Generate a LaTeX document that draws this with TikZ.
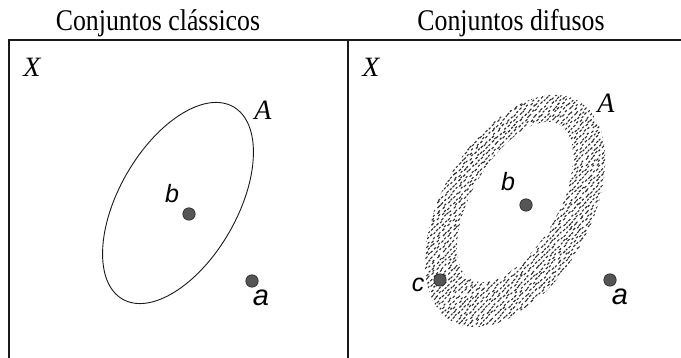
\documentclass[tikz,border=0pt]{standalone}
\usepackage{fontspec}
\setmainfont{Liberation Serif}
\setsansfont{Liberation Sans}
\usetikzlibrary{positioning}
\definecolor{DotGray}{HTML}{555555}
\definecolor{InkBlack}{HTML}{1A1A1A}
\definecolor{FuzzGray}{HTML}{2E2E2E}

\begin{document}
\begin{tikzpicture}[x=1pt, y=-1pt,
    title/.style={font=\fontsize{30}{30}\selectfont, anchor=base, xscale=0.86},
    setname/.style={font=\fontsize{28}{28}\selectfont\itshape, anchor=base},
    elem/.style={font=\fontsize{25}{25}\selectfont\sffamily\itshape, anchor=base},
    elembig/.style={font=\fontsize{29}{29}\selectfont\sffamily\itshape, anchor=base},
    pt/.style={circle, fill=DotGray, draw=InkBlack, line width=0.5pt, inner sep=0pt, minimum size=12.5pt},
    frame/.style={InkBlack, line width=1.6pt},
    fuzz/.style={FuzzGray, line width=1.1pt}]
  \useasboundingbox (0,0) rectangle (681,358);
  % Titles
  \node[title] (tclas) at (158,31) {Conjuntos clássicos};
  \node[title] (tdif) at (511,31) {Conjuntos difusos};
  % Frame (open at right and bottom)
  \coordinate (tl) at (9,40);
  \coordinate (tr) at (681,40);
  \coordinate (bl) at (9,358);
  \coordinate (tm) at (348,40);
  \coordinate (bm) at (348,358);
  \draw[frame] (bl) -- (tl) -- (tr);
  \draw[frame] (tm) -- (bm);
  % Universe labels
  \node[setname] (xl) at (32,77) {X};
  \node[setname] (xr) at (371,77) {X};
  % Classical set: crisp ellipse
  \coordinate (cA) at (178,203);
  \draw[InkBlack, line width=0.9pt, rotate around={60:(cA)}] (cA) ellipse (111 and 59);
  \node[setname] (al) at (263,120) {A};
  \node[pt] (pbl) at (189,214) {};
  \node[elem] (lbl) at (172,203) {b};
  \node[pt] (pal) at (252,281) {};
  \node[elembig] (lal) at (261,306) {a};
  % Fuzzy set: stippled ring
  \coordinate (co) at (515,211);
  \coordinate (ci) at (515,202);
  \begin{scope}[rotate around={60:(co)}]
    \clip (co) ellipse (127 and 74);
    \pgfmathsetseed{7}
    \foreach \gx in {420,425.5,...,612}
      \foreach \gy in {88,93.5,...,334} {
        \draw[fuzz, reset cm] (\gx+rand,\gy+rand) -- ++(2,-2);
        \draw[fuzz, reset cm] (\gx+2.6+rand,\gy+2.4+rand) -- ++(1.6,-1.6);
      }
  \end{scope}
  \fill[white, rotate around={60:(ci)}] (ci) ellipse (89 and 43);
  \node[setname] (ar) at (606,113) {A};
  \node[pt] (pbr) at (526,205) {};
  \node[elem] (lbr) at (508,191) {b};
  \node[pt] (pcr) at (440,280) {};
  \node[elem] (lcr) at (418,292) {c};
  \node[pt] (par) at (610,280) {};
  \node[elembig] (lar) at (620,305) {a};
\end{tikzpicture}
\end{document}
